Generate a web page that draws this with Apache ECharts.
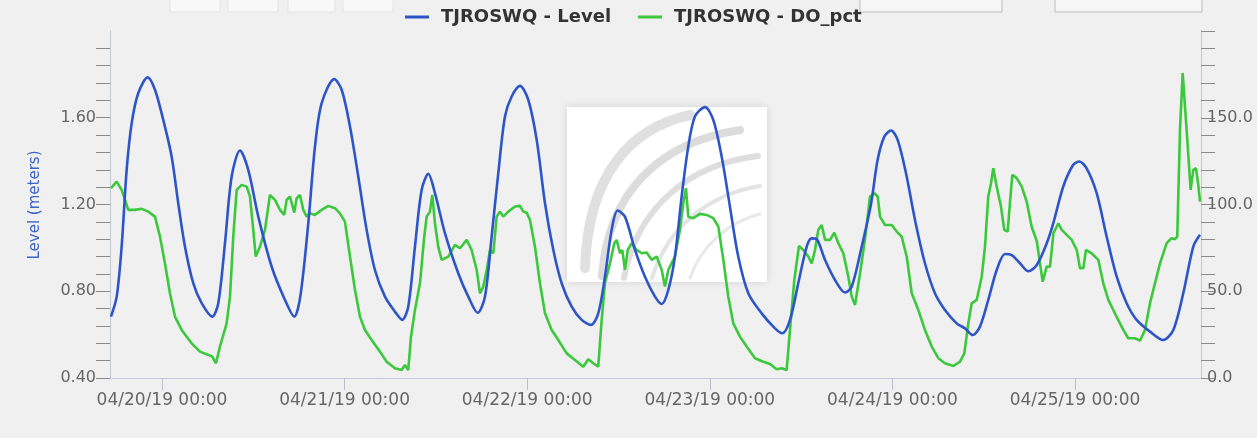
<!DOCTYPE html>
<html><head><meta charset="utf-8">
<script src="https://cdn.jsdelivr.net/npm/echarts@6/dist/echarts.min.js"></script>
<style>html,body{margin:0;padding:0;background:#f0f0f0;} #c{width:1257px;height:438px;}</style>
</head><body><div id="c"></div>
<script>
// x axis: hours from 04/20/19 00:00
const xTickHours = [0, 24, 48, 72, 96, 120];
const xTickLabels = ['04/20/19 00:00','04/21/19 00:00','04/22/19 00:00','04/23/19 00:00','04/24/19 00:00','04/25/19 00:00'];
const levelLabelTicks = [0.4, 0.8, 1.2, 1.6];
const doLabelTicks = [0, 50, 100, 150];
const seriesNames = ['TJROSWQ - Level', 'TJROSWQ - DO_pct'];

const levelHours = [-6.7,-5.95,-5.3,-4.64,-3.98,-3.11,-1.88,-0.92,0.17,1.27,
2.14,3.02,4.11,5.22,6.61,7.4,8.28,9.16,10.25,11.34,
12.66,14.42,16.17,17.39,18.2,19.23,20.11,20.99,22.65,23.62,
24.71,25.8,26.9,27.99,29.31,30.62,31.58,32.37,33.25,34.13,
35.0,35.88,37.19,38.94,40.26,41.49,42.45,43.33,44.2,45.08,
45.96,47.05,48.14,49.25,50.34,51.43,52.53,53.85,55.16,56.38,
57.34,58.22,59.1,59.89,60.85,62.17,63.48,64.8,65.68,66.55,
67.42,68.3,69.17,70.05,71.37,72.46,73.56,74.65,75.74,77.06,
78.82,80.57,81.53,82.54,83.63,84.74,85.4,86.05,87.15,88.46,
89.78,90.65,91.97,93.18,94.06,94.94,95.82,96.69,97.79,98.97,
100.28,101.59,102.91,104.45,105.54,106.55,107.51,108.6,109.71,110.8,
111.68,112.77,113.87,114.97,116.28,117.14,118.46,119.77,120.56,121.53,
122.85,124.16,125.48,126.79,128.1,129.85,131.6,132.92,134.23,135.55,
136.43];
const levelValues = [0.683,0.775,1.006,1.36,1.575,1.714,1.786,1.729,1.59,1.421,
1.206,1.006,0.837,0.745,0.683,0.745,1.021,1.329,1.449,1.36,
1.144,0.913,0.76,0.683,0.78,1.113,1.467,1.667,1.778,1.729,
1.56,1.329,1.083,0.898,0.775,0.706,0.668,0.729,1.006,1.267,
1.341,1.252,1.068,0.883,0.775,0.701,0.775,1.052,1.344,1.606,
1.698,1.747,1.683,1.498,1.206,0.991,0.837,0.729,0.668,0.645,
0.698,0.867,1.083,1.172,1.144,0.991,0.867,0.775,0.741,0.806,
0.96,1.236,1.467,1.606,1.649,1.59,1.421,1.19,0.96,0.791,
0.698,0.629,0.606,0.668,0.837,1.006,1.044,1.04,0.944,0.852,
0.794,0.821,1.006,1.2,1.406,1.513,1.541,1.498,1.344,1.129,
0.929,0.791,0.714,0.652,0.629,0.598,0.637,0.76,0.898,0.972,
0.967,0.929,0.892,0.921,1.021,1.113,1.283,1.383,1.398,1.367,
1.252,1.052,0.867,0.745,0.668,0.614,0.575,0.621,0.791,1.006,
1.06];

const doHours = [-6.7,-5.95,-5.3,-4.86,-4.43,-3.55,-2.67,-1.8,-0.92,-0.26,
0.39,1.05,1.71,2.59,3.9,4.99,6.09,6.61,7.1,7.62,
8.5,8.94,9.37,9.82,10.47,11.13,11.57,12.0,12.32,12.88,
13.54,14.19,14.85,15.51,16.07,16.39,16.82,17.39,17.7,18.14,
18.57,19.02,19.45,20.11,20.99,21.86,22.74,23.39,24.05,24.71,
25.37,26.02,26.68,27.56,28.65,29.53,30.62,31.5,31.94,32.37,
32.73,33.25,33.91,34.47,34.79,35.22,35.53,35.88,36.31,36.76,
37.63,38.51,39.17,40.05,40.7,41.36,41.8,42.23,42.68,43.11,
43.55,43.99,44.42,44.86,45.52,46.4,47.05,47.49,47.93,48.37,
49.02,49.68,50.34,51.22,52.09,53.19,54.28,55.37,56.03,56.69,
57.34,57.79,58.22,58.88,59.45,59.76,60.2,60.5,60.85,61.21,
61.73,62.39,63.05,63.7,64.36,65.02,65.68,66.11,66.55,67.42,
68.08,68.52,68.87,69.17,69.83,70.71,71.59,72.46,73.12,73.78,
74.43,75.09,75.97,76.85,77.94,79.03,79.91,80.79,81.45,82.1,
82.54,83.11,83.72,84.29,84.95,85.4,85.83,86.26,86.71,87.15,
87.8,88.37,88.89,89.55,90.21,90.65,91.09,91.75,92.4,93.06,
93.63,94.07,94.37,95.03,95.91,96.57,97.22,97.88,98.54,99.41,
100.28,101.17,102.04,102.91,104.01,104.89,105.45,105.98,106.42,107.08,
107.74,108.17,108.6,108.96,109.26,109.71,110.27,110.71,111.15,111.45,
111.76,112.34,113.0,113.65,114.31,114.97,115.4,115.76,116.28,116.72,
117.16,117.81,118.26,118.91,119.57,120.23,120.66,121.1,121.44,122.19,
123.06,123.72,124.38,125.03,125.69,126.35,127.0,127.88,128.54,129.2,
129.85,130.51,131.17,132.05,132.7,133.14,133.44,133.8,134.15,134.67,
135.2,135.55,135.9,136.2,136.43];
const doValues = [109.4,113.2,108.4,102.7,96.9,96.9,97.5,95.9,93.0,81.5,
66.1,48.8,35.4,27.7,20.0,15.2,13.3,12.3,8.5,18.1,
31.5,46.9,81.5,108.4,111.3,110.3,104.6,85.4,70.0,75.7,
85.4,105.5,102.7,96.9,94.0,102.7,104.6,95.3,103.6,105.5,
96.9,93.0,94.9,94.0,96.9,99.2,97.9,94.9,90.1,70.0,
50.7,35.4,27.7,21.9,15.2,9.4,5.6,4.6,7.5,4.6,
23.8,39.2,54.6,81.5,93.0,95.9,105.5,89.2,75.7,68.1,
70.0,76.7,74.8,79.6,73.8,62.3,48.8,52.7,62.3,73.8,
71.9,93.0,95.9,93.0,95.9,98.8,99.2,95.9,95.3,91.1,
75.7,54.6,37.3,27.7,21.9,14.2,10.4,6.5,10.8,8.5,
6.5,33.4,54.6,66.1,77.7,79.6,71.9,73.8,62.3,73.8,
77.7,73.8,71.9,72.3,68.1,70.0,62.3,52.7,62.3,70.0,
85.4,100.8,109.4,93.0,92.1,94.6,94.0,92.1,87.3,68.1,
46.9,31.5,23.8,18.1,11.4,9.4,8.1,5.0,5.6,4.6,
27.7,56.5,76.1,73.8,70.0,66.1,73.8,85.4,88.2,79.6,
79.6,83.8,77.7,71.9,58.4,46.9,42.1,60.4,80.0,104.6,
106.5,104.6,93.0,88.2,88.2,84.4,81.5,70.0,48.8,39.2,
27.7,18.1,11.4,8.5,6.9,9.4,14.2,31.5,43.0,45.0,
58.4,75.7,104.6,112.3,120.9,110.3,98.8,85.4,84.4,100.8,
117.1,115.2,110.3,101.7,87.0,79.0,66.1,55.5,64.2,64.2,
83.4,89.2,85.4,82.5,79.6,73.8,63.3,63.3,73.8,71.9,
68.1,54.6,45.0,39.2,33.4,27.7,22.9,22.9,21.5,27.7,
43.0,54.6,66.1,77.7,80.6,80.0,81.5,143.0,175.7,143.0,
108.4,120.0,120.9,111.3,101.7];

const levelData = levelHours.map((h, i) => [h, levelValues[i]]);
const doData = doHours.map((h, i) => [h, doValues[i]]);

const levelMinorTicks = [];
for (let k = 0; k < 20; k++) levelMinorTicks.push(+(0.4 + k * 0.08).toFixed(2));
const doMinorTicks = [];
for (let k = 0; k <= 20; k++) doMinorTicks.push(k * 10);

const FONT = 'DejaVu Sans';
const chart = echarts.init(document.getElementById('c'), null, {renderer: 'canvas'});
chart.setOption({
  backgroundColor: '#f0f0f0',
  animation: false,
  textStyle: {fontFamily: FONT},
  legend: {
    data: seriesNames,
    left: 400, top: 3,
    icon: 'rect', itemWidth: 24, itemHeight: 3, itemGap: 27,
    textStyle: {fontFamily: FONT, fontSize: 18, fontWeight: 'bold', color: '#333', padding: [0, 0, 0, 7]}
  },
  grid: {left: 110, right: 56, top: 31, bottom: 60},
  xAxis: {
    type: 'value', min: -6.83, max: 136.56,
    splitLine: {show: false},
    axisLine: {onZero: false, lineStyle: {color: '#c4c9d8', width: 1}},
    axisTick: {customValues: xTickHours, length: 12, lineStyle: {color: '#bcc0cc'}},
    axisLabel: {
      customValues: xTickHours, margin: 14, color: '#666', fontSize: 17, fontFamily: FONT,
      formatter: v => { const i = xTickHours.indexOf(Math.round(v)); return i >= 0 ? xTickLabels[i] : ''; }
    }
  },
  yAxis: [
    {
      type: 'value', min: 0.4, max: 2.0, position: 'left',
      splitLine: {show: false},
      axisLine: {show: true, onZero: false, lineStyle: {color: '#c4c9d8'}},
      axisTick: {show: true, customValues: levelMinorTicks, length: 14, lineStyle: {color: '#8a8a8a'}},
      axisLabel: {customValues: levelLabelTicks, margin: 14, color: '#666', fontSize: 16, fontFamily: FONT,
        formatter: v => v.toFixed(2)}
    },
    {
      type: 'value', min: 0, max: 200, position: 'right',
      splitLine: {show: false},
      axisLine: {show: true, onZero: false, lineStyle: {color: '#c4c9d8'}},
      axisTick: {show: true, customValues: doMinorTicks, length: 14, lineStyle: {color: '#8a8a8a'}},
      axisLabel: {customValues: doLabelTicks, margin: 6, color: '#666', fontSize: 16, fontFamily: FONT,
        formatter: v => v.toFixed(1)}
    }
  ],
  graphic: [
    {type: 'rect', z: 0, shape: {x: 170, y: -2, width: 50, height: 14}, style: {fill: '#f8f8f8', stroke: '#e4e4e4'}},
    {type: 'rect', z: 0, shape: {x: 228, y: -2, width: 50, height: 14}, style: {fill: '#f8f8f8', stroke: '#e4e4e4'}},
    {type: 'rect', z: 0, shape: {x: 288, y: -2, width: 47, height: 14}, style: {fill: '#f8f8f8', stroke: '#e4e4e4'}},
    {type: 'rect', z: 0, shape: {x: 343, y: -2, width: 50, height: 14}, style: {fill: '#f8f8f8', stroke: '#e4e4e4'}},
    {type: 'rect', z: 0, shape: {x: 860, y: -2, width: 142, height: 14}, style: {fill: '#f6f6f6', stroke: '#bdbdbd'}},
    {type: 'rect', z: 0, shape: {x: 1055, y: -2, width: 147, height: 14}, style: {fill: '#f6f6f6', stroke: '#bdbdbd'}},
    {type: 'rect', z: 0, shape: {x: 567, y: 107, width: 200, height: 175},
      style: {fill: '#ffffff', shadowBlur: 8, shadowColor: 'rgba(0,0,0,0.12)'}},
    {type: 'bezierCurve', z: 1, shape: {x1: 585, y1: 268, cpx1: 588, cpy1: 175, cpx2: 630, cpy2: 128, x2: 690, y2: 115},
      style: {stroke: '#e0e0e0', lineWidth: 10, fill: null, lineCap: 'round'}},
    {type: 'bezierCurve', z: 1, shape: {x1: 602, y1: 276, cpx1: 608, cpy1: 192, cpx2: 660, cpy2: 142, x2: 740, y2: 130},
      style: {stroke: '#dcdcdc', lineWidth: 8, fill: null, lineCap: 'round'}},
    {type: 'bezierCurve', z: 1, shape: {x1: 624, y1: 278, cpx1: 637, cpy1: 207, cpx2: 690, cpy2: 164, x2: 758, y2: 156},
      style: {stroke: '#dedede', lineWidth: 6, fill: null, lineCap: 'round'}},
    {type: 'bezierCurve', z: 1, shape: {x1: 652, y1: 278, cpx1: 668, cpy1: 226, cpx2: 710, cpy2: 194, x2: 760, y2: 186},
      style: {stroke: '#e3e3e3', lineWidth: 4, fill: null, lineCap: 'round'}},
    {type: 'bezierCurve', z: 1, shape: {x1: 690, y1: 278, cpx1: 701, cpy1: 246, cpx2: 728, cpy2: 222, x2: 760, y2: 214},
      style: {stroke: '#e8e8e8', lineWidth: 3, fill: null, lineCap: 'round'}},
    {type: 'text', z: 3, x: 35, y: 205, rotation: Math.PI / 2,
      style: {text: 'Level (meters)', fill: '#3d62c8', font: '15px "DejaVu Sans"', textAlign: 'center', textVerticalAlign: 'middle'}}
  ],
  series: [
    {name: seriesNames[0], type: 'line', yAxisIndex: 0, data: levelData, showSymbol: false, smooth: 0.3,
      color: '#2d55c8', lineStyle: {width: 2.6, color: '#2d55c8'}, z: 3},
    {name: seriesNames[1], type: 'line', yAxisIndex: 1, data: doData, showSymbol: false,
      color: '#3cc83c', lineStyle: {width: 2.6, color: '#3cc83c'}, z: 2}
  ]
});
</script></body></html>
